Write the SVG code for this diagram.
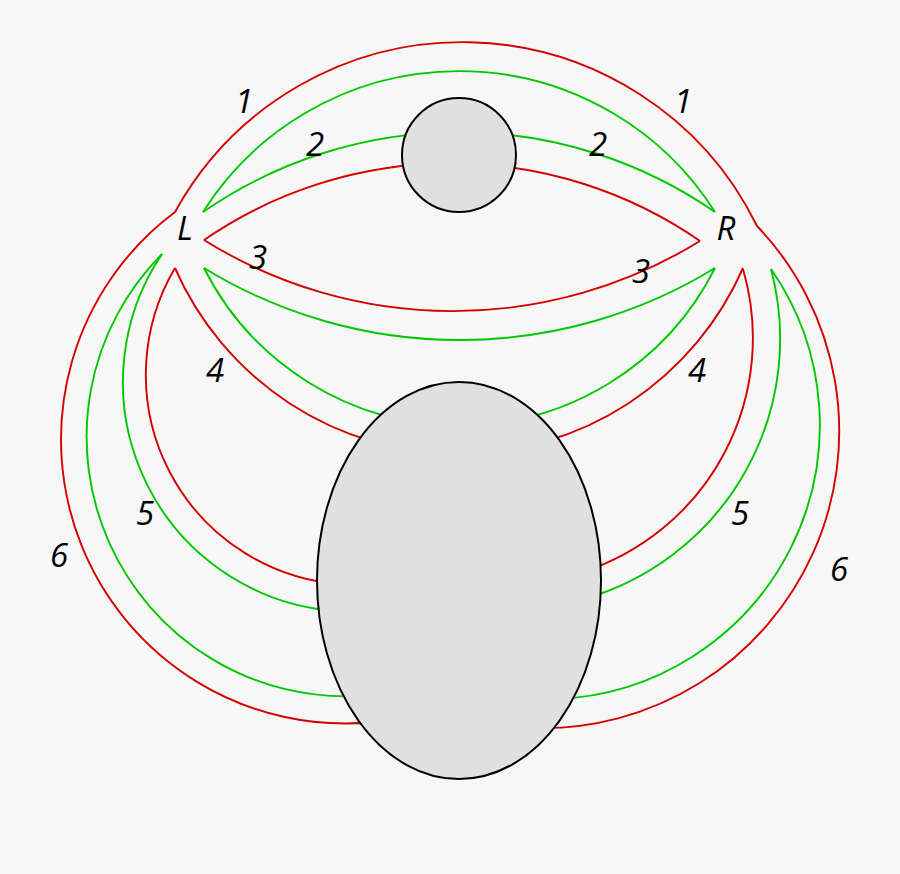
<svg xmlns="http://www.w3.org/2000/svg" width="900" height="874" viewBox="0 0 900 874">
<style>
.r{fill:none;stroke:#d40000;stroke-width:1.9}
.g{fill:none;stroke:#00c800;stroke-width:1.9}
.n{fill:#e0e0e0;stroke:#000;stroke-width:2}
.t{font-family:"Open Sans","Noto Sans","DejaVu Sans",sans-serif;font-style:italic;font-size:33px;fill:#000;text-anchor:middle}
</style>
<rect width="900" height="874" fill="#f7f7f7"/>
<g id="connectors">
<path class="r" d="M374,722 A284,284 0 0,1 175,212 A328,328 0 0,1 757,226 A297,297 0 0,1 533,728"/>
<path class="g" d="M203,212 A303,303 0 0,1 715,212"/>
<path class="g" d="M203,212 A450,450 0 0,1 715,212"/>
<path class="r" d="M204,240 A437,437 0 0,1 700,241"/>
<path class="r" d="M204,240 A471,471 0 0,0 700,241"/>
<path class="g" d="M204,268 A489,489 0 0,0 715,268"/>
<path class="g" d="M204,268 A286,286 0 0,0 715,268"/>
<path class="r" d="M175,268 A310,310 0 0,0 743,268"/>
<path class="r" d="M175,268 A210,210 0 0,0 338,584"/>
<path class="r" d="M743,269 A246,246 0 0,1 583,572"/>
<path class="g" d="M162,254 A229.5,229.5 0 0,0 336,611"/>
<path class="g" d="M162,254 A259.5,259.5 0 0,0 360,696"/>
<path class="g" d="M771,269 A270.6,270.6 0 0,1 584,599"/>
<path class="g" d="M771,269 A274,274 0 0,1 555,699"/>
</g>
<g id="small-body"><circle class="n" cx="459" cy="155" r="57"/></g>
<g id="large-body"><ellipse class="n" cx="459" cy="580.5" rx="142" ry="198.5"/></g>
<g id="labels">
<text class="t" x="185" y="240">L</text>
<text class="t" x="726" y="240">R</text>
<text class="t" x="244" y="113">1</text>
<text class="t" x="683" y="113">1</text>
<text class="t" x="315" y="156">2</text>
<text class="t" x="598" y="156">2</text>
<text class="t" x="258" y="269">3</text>
<text class="t" x="641" y="283">3</text>
<text class="t" x="215" y="382">4</text>
<text class="t" x="697" y="382">4</text>
<text class="t" x="145" y="525">5</text>
<text class="t" x="740" y="525">5</text>
<text class="t" x="59" y="567">6</text>
<text class="t" x="839" y="581">6</text>
</g>
</svg>
